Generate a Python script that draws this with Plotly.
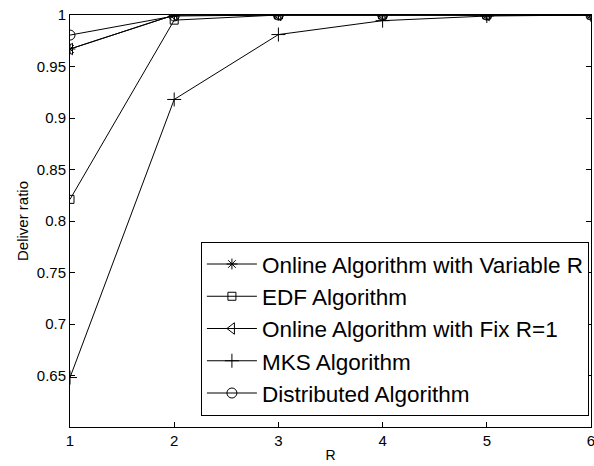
import plotly.graph_objects as go

r_values = [1, 2, 3, 4, 5, 6]
online_variable_r = [0.967, 1.0, 1.0, 1.0, 1.0, 1.0]
edf = [0.821, 0.995, 1.0, 1.0, 1.0, 1.0]
online_fix_r1 = [0.967, 1.0, 1.0, 1.0, 1.0, 1.0]
mks = [0.648, 0.918, 0.981, 0.9945, 0.999, 1.0]
distributed = [0.9805, 0.999, 1.0, 1.0, 1.0, 1.0]

series = [
    ("Online Algorithm with Variable R", online_variable_r, "asterisk-open", 9),
    ("EDF Algorithm", edf, "square-open", 8),
    ("Online Algorithm with Fix R=1", online_fix_r1, "triangle-left-open", 10),
    ("MKS Algorithm", mks, "cross-thin-open", 10),
    ("Distributed Algorithm", distributed, "circle-open", 10),
]

fig = go.Figure()
for i, (name, vals, sym, size) in enumerate(series):
    fig.add_trace(go.Scatter(
        x=r_values, y=vals, name=name, mode="lines+markers",
        legendgroup=f"g{i}",
        line=dict(color="black", width=1),
        marker=dict(symbol=sym, size=size, color="black",
                    line=dict(color="black", width=1)),
    ))

axis_common = dict(
    showgrid=False, zeroline=False, showline=True, linecolor="black",
    linewidth=1, mirror="ticks", ticks="inside", ticklen=5,
    tickcolor="black", tickfont=dict(size=15, color="black"),
    automargin=False, ticklabeloverflow="allow",
)

fig.update_layout(
    width=594, height=466,
    margin=dict(l=70, r=3, t=15, b=39),
    paper_bgcolor="white", plot_bgcolor="white",
    font=dict(family="Liberation Sans, Arial, sans-serif", color="black"),
    xaxis=dict(range=[1, 6], tickvals=r_values,
               title=dict(text="R", font=dict(size=14), standoff=2),
               **axis_common),
    yaxis=dict(range=[0.6, 1.0], tickvals=[0.65, 0.7, 0.75, 0.8, 0.85, 0.9, 0.95, 1.0],
               ticktext=["0.65", "0.7", "0.75", "0.8", "0.85", "0.9", "0.95", "1"],
               title=dict(text="Deliver ratio", font=dict(size=15), standoff=4),
               **axis_common),
    legend=dict(
        x=0.996, y=0.027, xanchor="right", yanchor="bottom",
        bgcolor="white", bordercolor="black", borderwidth=1,
        font=dict(size=22.5, color="black"), tracegroupgap=0,
        itemwidth=50,
    ),
    showlegend=True,
)

fig.write_html("out.html")
